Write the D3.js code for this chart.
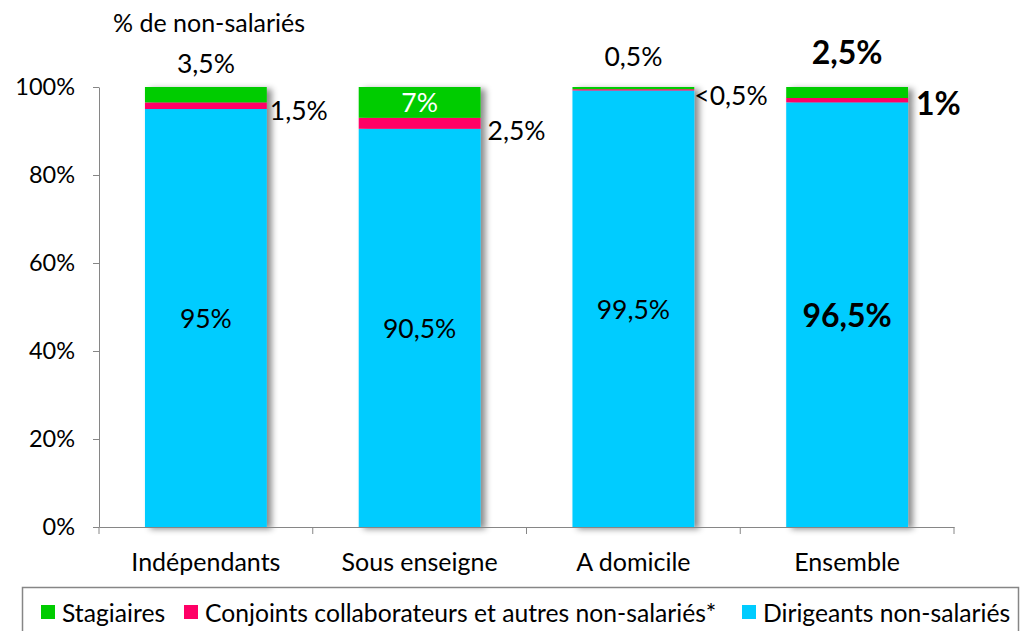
<!DOCTYPE html>
<html lang="fr">
<head>
<meta charset="utf-8">
<script src="https://cdn.jsdelivr.net/npm/d3@7"></script>
<style>
  html, body { margin: 0; padding: 0; background: #fff; }
  svg { display: block; font-family: Lato, "Open Sans", sans-serif; }
</style>
</head>
<body>
<svg id="chart" width="1029" height="631"></svg>
<script>
// Répartition des non-salariés par type d'établissement
const categories = ["Indépendants", "Sous enseigne", "A domicile", "Ensemble"];
const dirigeants = [95, 90.5, 99.5, 96.5];
const conjoints  = [1.5, 2.5, 0.3, 1];
const stagiaires = [3.5, 7, 0.5, 2.5];
const conjointsLabels = ["1,5%", "2,5%", "<0,5%", "1%"];
const seriesNames = ["Dirigeants non-salariés", "Conjoints collaborateurs et autres non-salariés*", "Stagiaires"];
const legendOrder = ["Stagiaires", "Conjoints collaborateurs et autres non-salariés*", "Dirigeants non-salariés"];
const yTicks = [0, 0.2, 0.4, 0.6, 0.8, 1];
const boldCategory = "Ensemble";

const colors = {
  "Dirigeants non-salariés": "#00CCFF",
  "Conjoints collaborateurs et autres non-salariés*": "#FF0066",
  "Stagiaires": "#00CC00"
};

const svg = d3.select("#chart");
const plotLeft = 99, plotRight = 954, plotTop = 87, plotBottom = 527;
const fontNum = 26.5, fontNumBold = 32, fontAxis = 23.5, fontCat = 25, fontLegend = 24.7;

const rows = categories.map((c, i) => ({
  cat: c,
  "Dirigeants non-salariés": dirigeants[i],
  "Conjoints collaborateurs et autres non-salariés*": conjoints[i],
  "Stagiaires": stagiaires[i]
}));

const stack = d3.stack().keys(seriesNames).offset(d3.stackOffsetExpand);
const layers = stack(rows);

const x = d3.scaleBand().domain(categories).range([plotLeft, plotRight])
  .paddingInner(0.43).paddingOuter(0.215);
const y = d3.scaleLinear().domain([0, 1]).range([plotBottom, plotTop]);

const fr = d3.formatLocale({ decimal: ",", thousands: " ", grouping: [3], currency: ["", " €"] });
const pct = v => fr.format(",")(v) + "%";

// ombre portée des barres
const defs = svg.append("defs");
const f = defs.append("filter").attr("id", "shadow")
  .attr("x", "-10%").attr("y", "-10%").attr("width", "130%").attr("height", "130%");
f.append("feDropShadow").attr("dx", 5).attr("dy", 2).attr("stdDeviation", 3)
  .attr("flood-color", "#000").attr("flood-opacity", 0.45);

// axe Y
const yAxis = svg.append("g").attr("transform", `translate(${plotLeft},0)`)
  .call(d3.axisLeft(y).tickValues(yTicks).tickFormat(d => Math.round(d * 100) + "%")
    .tickSizeInner(6).tickSizeOuter(0).tickPadding(18));
yAxis.select(".domain").attr("stroke", "#868686");
yAxis.selectAll(".tick line").attr("stroke", "#868686");
yAxis.selectAll(".tick text").attr("font-size", fontAxis).attr("fill", "#000")
  .attr("font-family", "Lato, sans-serif");

// barres empilées
const barGroups = categories.map(c => svg.append("g").attr("filter", "url(#shadow)"));
layers.forEach(layer => {
  layer.forEach((d, i) => {
    barGroups[i].append("rect")
      .attr("x", x(categories[i]))
      .attr("width", x.bandwidth())
      .attr("y", y(d[1]))
      .attr("height", y(d[0]) - y(d[1]))
      .attr("fill", colors[layer.key]);
  });
});

// axe X
const xAxis = svg.append("g").attr("transform", `translate(0,${plotBottom})`)
  .call(d3.axisBottom(x).tickSize(0).tickSizeOuter(0).tickPadding(26));
xAxis.select(".domain").attr("stroke", "#868686");
xAxis.selectAll(".tick text").attr("font-size", fontCat).attr("fill", "#000")
  .attr("font-family", "Lato, sans-serif");
const gap = x.step() * x.paddingInner() / 2;
const bounds = categories.map(c => x(c) - gap).concat([x(categories[categories.length - 1]) + x.bandwidth() + gap]);
xAxis.selectAll(".bound").data(bounds).join("line").attr("class", "bound")
  .attr("x1", d => d).attr("x2", d => d).attr("y1", 0).attr("y2", 7)
  .attr("stroke", "#868686");

// étiquettes de valeurs
const labels = svg.append("g");
const dirLayer = layers[0], conjLayer = layers[1], stagLayer = layers[2];
const conjDx = [3, 7, 0, 8];
const conjDy = [4, 7, 5, 2];
const stagAbove = [24, 0, 31, 36];
categories.forEach((c, i) => {
  const bold = c === boldCategory;
  const fs = bold ? fontNumBold : fontNum;
  const fw = bold ? 700 : 400;
  const cx = x(c) + x.bandwidth() / 2;
  const xr = x(c) + x.bandwidth();
  // dirigeants : centre du segment
  labels.append("text").attr("x", cx).attr("y", y((dirLayer[i][0] + dirLayer[i][1]) / 2))
    .attr("text-anchor", "middle").attr("dominant-baseline", "central")
    .attr("font-size", fs).attr("font-weight", fw)
    .text(pct(dirigeants[i]));
  // conjoints : à droite de la barre
  labels.append("text").attr("x", xr + conjDx[i])
    .attr("y", y((conjLayer[i][0] + conjLayer[i][1]) / 2) + conjDy[i])
    .attr("dominant-baseline", "central")
    .attr("font-size", fs).attr("font-weight", fw)
    .text(conjointsLabels[i]);
  // stagiaires : dans le segment si assez haut, sinon au-dessus
  const h = y(stagLayer[i][0]) - y(stagLayer[i][1]);
  if (h > 24) {
    labels.append("text").attr("x", cx).attr("y", y((stagLayer[i][0] + stagLayer[i][1]) / 2))
      .attr("text-anchor", "middle").attr("dominant-baseline", "central")
      .attr("font-size", fontNum).attr("fill", "#fff").text(pct(stagiaires[i]));
  } else {
    labels.append("text").attr("x", cx).attr("y", y(1) - stagAbove[i])
      .attr("text-anchor", "middle").attr("dominant-baseline", "central")
      .attr("font-size", fs).attr("font-weight", fw)
      .text(pct(stagiaires[i]));
  }
});

// titre de l'axe
svg.append("text").attr("x", 113).attr("y", 22).attr("dominant-baseline", "central")
  .attr("font-size", 25).text("% de non-salariés");

// légende
const lg = svg.append("g");
lg.append("rect").attr("x", 22.5).attr("y", 587.5).attr("width", 996).attr("height", 60)
  .attr("fill", "#fff").attr("stroke", "#868686").attr("stroke-width", 1.5);
const legendX = [41, 184, 742];
legendOrder.forEach((k, i) => {
  lg.append("rect").attr("x", legendX[i]).attr("y", 605).attr("width", 14).attr("height", 14)
    .attr("fill", colors[k]);
  lg.append("text").attr("x", legendX[i] + 21).attr("y", 612).attr("dominant-baseline", "central")
    .attr("font-size", fontLegend).text(k);
});
</script>
</body>
</html>
